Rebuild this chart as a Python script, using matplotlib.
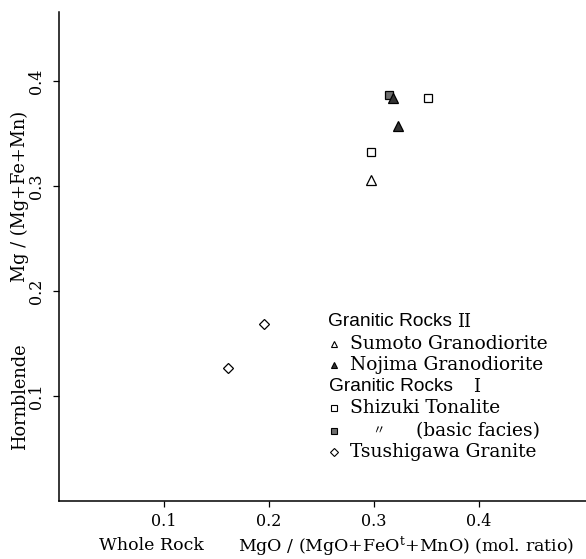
import matplotlib
matplotlib.use("Agg")
import matplotlib.pyplot as plt

# whole-rock MgO/(MgO+FeOt+MnO) vs hornblende Mg/(Mg+Fe+Mn)
sumoto_x = [0.297]
sumoto_y = [0.306]
nojima_x = [0.318, 0.323]
nojima_y = [0.384, 0.357]
shizuki_x = [0.297, 0.351]
shizuki_y = [0.332, 0.384]
shizuki_basic_x = [0.314]
shizuki_basic_y = [0.387]
tsushigawa_x = [0.161, 0.195]
tsushigawa_y = [0.127, 0.169]

x_ticks = [0.1, 0.2, 0.3, 0.4]
y_ticks = [0.1, 0.2, 0.3, 0.4]

SERIF = "DejaVu Serif"
SANS = "Liberation Sans"
plt.rcParams["mathtext.fontset"] = "dejavuserif"

W, H = 586, 559
fig = plt.figure(figsize=(W / 100, H / 100), dpi=100)
ax = fig.add_axes([59 / W, 58 / H, 527 / W, 489 / H])
ax.set_xlim(0, 527 / 1050)
ax.set_ylim(0, 489 / 1050)
for side in ("top", "right"):
    ax.spines[side].set_visible(False)
for side in ("left", "bottom"):
    ax.spines[side].set_linewidth(1.1)

ax.set_xticks(x_ticks)
ax.set_yticks(y_ticks)
ax.set_xticklabels([f"{v:.1f}" for v in x_ticks], fontfamily=SERIF, fontsize=11.5)
ax.set_yticklabels([f"{v:.1f}" for v in y_ticks], fontfamily=SERIF, fontsize=11.5,
                   rotation=90, va="center")
ax.tick_params(direction="out", length=4, width=0.9)
ax.tick_params(axis="x", pad=5)
ax.tick_params(axis="y", pad=6)

ms = dict(markeredgecolor="black", markeredgewidth=0.9, linestyle="none")
ax.plot(sumoto_x, sumoto_y, marker="^", markersize=6.5, markerfacecolor="white", **ms)
ax.plot(shizuki_x, shizuki_y, marker="s", markersize=5.2, markerfacecolor="white", **ms)
ax.plot(shizuki_basic_x, shizuki_basic_y, marker="s", markersize=5.2,
        markerfacecolor="#6e6e6e", **ms)
ax.plot(nojima_x, nojima_y, marker="^", markersize=6.5, markerfacecolor="#333333", **ms)
ax.plot(tsushigawa_x, tsushigawa_y, marker="D", markersize=5.2, markerfacecolor="white", **ms)

# legend, drawn by hand to mix fonts
tA = ax.transAxes
def fx(px):
    return (px - 59) / 527
def fy(py):
    return (501 - py) / 489

ax.text(fx(328), fy(321.7), "Granitic Rocks", transform=tA, fontfamily=SANS,
        fontsize=13.8, va="center", ha="left")
ax.text(fx(457), fy(321.7), "II", transform=tA, fontfamily=SERIF,
        fontsize=13, va="center", ha="left")
ax.text(fx(329), fy(386.7), "Granitic Rocks", transform=tA, fontfamily=SANS,
        fontsize=13.8, va="center", ha="left")
ax.text(fx(473), fy(386.7), "I", transform=tA, fontfamily=SERIF,
        fontsize=13, va="center", ha="left")

entries = [
    (344.0, "^", "white", 5.0, "Sumoto Granodiorite"),
    (365.3, "^", "#333333", 5.0, "Nojima Granodiorite"),
    (408.3, "s", "white", 4.2, "Shizuki Tonalite"),
    (431.0, "s", "#6e6e6e", 4.2, None),
    (451.7, "D", "white", 4.2, "Tsushigawa Granite"),
]
for py, mk, fc, size, label in entries:
    ax.plot([fx(334)], [fy(py)], transform=tA, marker=mk, markersize=size,
            markerfacecolor=fc, markeredgecolor="black", markeredgewidth=0.8,
            linestyle="none", clip_on=False)
    if label:
        ax.text(fx(350), fy(py), label, transform=tA, fontfamily=SERIF,
                fontsize=13.4, va="center", ha="left")
ax.text(fx(378), fy(431.0), "〃", transform=tA,
        fontfamily=["Noto Sans CJK JP", "DejaVu Sans"], fontsize=9,
        va="center", ha="center")
ax.text(fx(416), fy(431.0), "(basic facies)", transform=tA, fontfamily=SERIF,
        fontsize=13.4, va="center", ha="left")

# axis titles
fig.text(99 / W, 1 - 546 / H, "Whole Rock", fontfamily=SERIF, fontsize=12.5,
         va="center", ha="left")
fig.text(238 / W, 1 - 546 / H, "MgO / (MgO+FeO$^{\\mathrm{t}}$+MnO) (mol. ratio)",
         fontfamily=SERIF, fontsize=12.5, va="center", ha="left")
fig.text(20 / W, 1 - 450 / H, "Hornblende", fontfamily=SERIF, fontsize=12.8,
         rotation=90, va="bottom", ha="center")
fig.text(20 / W, 1 - 282 / H, "Mg / (Mg+Fe+Mn)", fontfamily=SERIF, fontsize=12.8,
         rotation=90, va="bottom", ha="center")

fig.savefig("out.png", dpi=100)
